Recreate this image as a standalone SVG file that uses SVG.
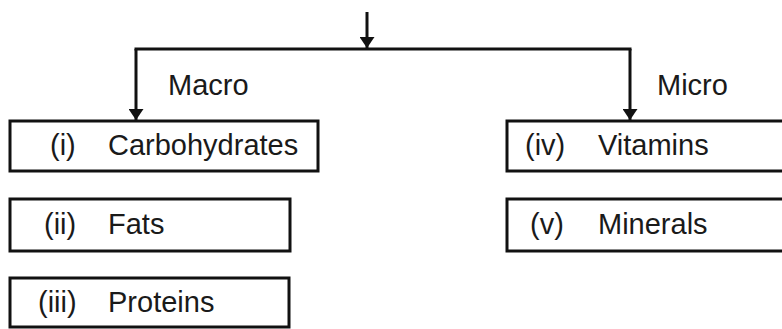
<svg xmlns="http://www.w3.org/2000/svg" width="782" height="329" viewBox="0 0 782 329">
<defs>
<marker id="ah" viewBox="0 0 11 15" refX="11" refY="7.5" markerWidth="11" markerHeight="15" markerUnits="userSpaceOnUse" orient="auto">
<path d="M0,0 L11,7.5 L0,15 Z" fill="#111"/>
</marker>
<style>
.box{fill:#fff;stroke:#111;stroke-width:3}
.t{font-family:"Liberation Sans",Arial,sans-serif;font-size:29px;fill:#1a1a1a}
.c{fill:none;stroke:#111;stroke-width:3}
</style>
</defs>
<rect width="782" height="329" fill="#fff"/>
<g id="connectors">
<line class="c" x1="367" y1="12" x2="367" y2="48" marker-end="url(#ah)"/>
<line class="c" x1="134.5" y1="49" x2="631.5" y2="49"/>
<line class="c" x1="136" y1="49" x2="136" y2="120" marker-end="url(#ah)"/>
<line class="c" x1="630" y1="49" x2="630" y2="120" marker-end="url(#ah)"/>
</g>
<g id="label-macro"><text class="t" x="168" y="95">Macro</text></g>
<g id="label-micro"><text class="t" x="657" y="95">Micro</text></g>
<g id="n1"><rect class="box" x="10" y="121" width="308" height="50"/><text class="t" x="50" y="155">(i)</text><text class="t" x="108" y="155">Carbohydrates</text></g>
<g id="n2"><rect class="box" x="10" y="199" width="280" height="52"/><text class="t" x="44" y="234">(ii)</text><text class="t" x="108" y="234">Fats</text></g>
<g id="n3"><rect class="box" x="10" y="278" width="279" height="49"/><text class="t" x="38" y="312">(iii)</text><text class="t" x="108" y="312">Proteins</text></g>
<g id="n4"><rect class="box" x="507" y="121" width="290" height="50"/><text class="t" x="525" y="155">(iv)</text><text class="t" x="598" y="155">Vitamins</text></g>
<g id="n5"><rect class="box" x="507" y="199" width="290" height="52"/><text class="t" x="530" y="234">(v)</text><text class="t" x="598" y="234">Minerals</text></g>
</svg>
